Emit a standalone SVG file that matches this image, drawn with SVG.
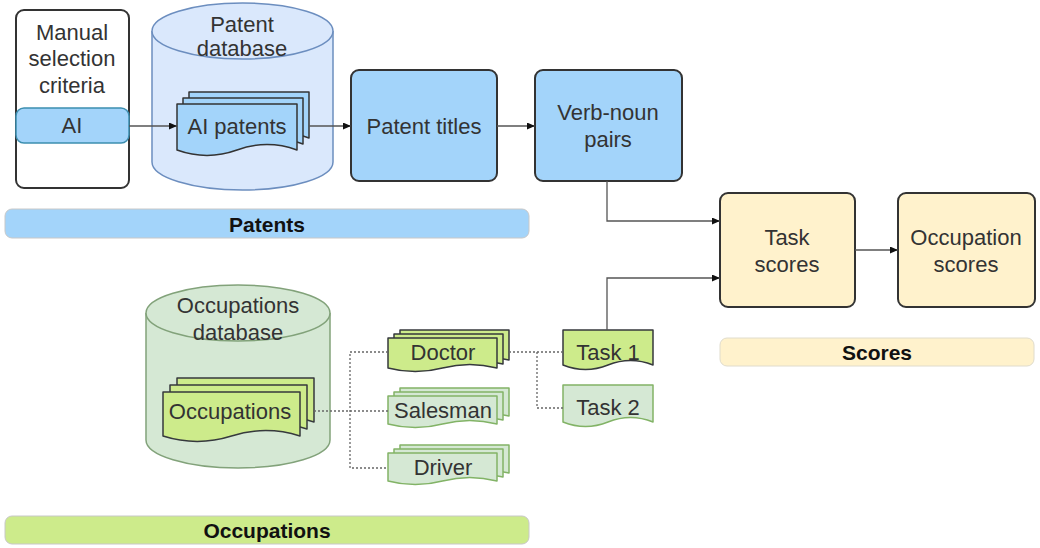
<svg xmlns="http://www.w3.org/2000/svg" width="1040" height="548" viewBox="0 0 1040 548">
<defs>
<marker id="arr" markerWidth="9" markerHeight="8" refX="8" refY="3.5" orient="auto" markerUnits="userSpaceOnUse">
<path d="M0,0 L8,3.5 L0,7 z" fill="#111"/>
</marker>
<style>
text{font-family:"Liberation Sans",Arial,Helvetica,sans-serif;font-size:22px;fill:#333;text-anchor:middle}
.b{font-weight:bold;fill:#111;font-size:21px}
.box{stroke:#333;stroke-width:2}
.blue{fill:#a3d4fa}
.yel{fill:#fff2cc}
.cylB{fill:#dae8fc;stroke:#6c8ebf;stroke-width:1.5}
.cylG{fill:#d5e8d4;stroke:#82a27a;stroke-width:1.5}
.docG{fill:#cdeb8b;stroke:#36393d;stroke-width:1.5;stroke-linejoin:round}
.docL{fill:#d5e8d4;stroke:#82b366;stroke-width:1.5;stroke-linejoin:round}
.docB{fill:#a3d4fa;stroke:#333;stroke-width:1.5;stroke-linejoin:round}
.con{fill:none;stroke:#555;stroke-width:1.3}
.dot{fill:none;stroke:#666;stroke-width:1.3;stroke-dasharray:2 2}
</style>
</defs>

<g id="patents-bar">
<rect x="5" y="209" width="524" height="29" rx="7" fill="#a3d4fa" stroke="#c8c8c8" stroke-width="1"/>
<text class="b" x="267" y="232">Patents</text>
</g>
<g id="occupations-bar">
<rect x="5" y="516" width="524" height="28" rx="7" fill="#cdeb8b" stroke="#c8c8c8" stroke-width="1"/>
<text class="b" x="267" y="538">Occupations</text>
</g>
<g id="scores-bar">
<rect x="720" y="338" width="314" height="28" rx="7" fill="#fff2cc" stroke="#e0dccc" stroke-width="1"/>
<text class="b" x="877" y="360">Scores</text>
</g>

<g id="manual-criteria">
<rect class="box" x="16" y="10" width="113" height="178" rx="8" fill="#fff"/>
<text x="72" y="40">Manual</text>
<text x="72" y="66">selection</text>
<text x="72" y="93">criteria</text>
<rect x="16" y="108" width="113" height="35" rx="8" fill="#a3d4fa" stroke="#3d8fb0" stroke-width="1.5"/>
<text x="72" y="133">AI</text>
</g>

<g id="patent-database">
<path class="cylB" d="M152 31 A90.5 28 0 0 1 333 31 V162 A90.5 28 0 0 1 152 162 Z"/>
<path class="cylB" fill="none" d="M152 31 A90.5 28 0 0 0 333 31"/>
<text x="242" y="32">Patent</text>
<text x="242" y="56">database</text>
</g>

<g id="ai-patents">
<path class="docB" d="M189 92 H309 V138 Q279 127.2 249 138 Q219 148.8 189 138 Z"/>
<path class="docB" d="M183 98 H303 V144 Q273 133.2 243 144 Q213 154.8 183 144 Z"/>
<path class="docB" d="M177 104 H297 V150 Q267 139.2 237 150 Q207 160.8 177 150 Z"/>
<text x="237" y="134">AI patents</text>
</g>

<g id="patent-titles">
<rect class="box blue" x="351" y="70" width="146" height="111" rx="8"/>
<text x="424" y="134">Patent titles</text>
</g>

<g id="verb-noun-pairs">
<rect class="box blue" x="535" y="70" width="147" height="111" rx="8"/>
<text x="608" y="120">Verb-noun</text>
<text x="608" y="147">pairs</text>
</g>

<g id="task-scores">
<rect class="box yel" x="720" y="193" width="135" height="114" rx="8"/>
<text x="787" y="245">Task</text>
<text x="787" y="272">scores</text>
</g>

<g id="occupation-scores">
<rect class="box yel" x="898" y="193" width="137" height="114" rx="8"/>
<text x="966" y="245">Occupation</text>
<text x="966" y="272">scores</text>
</g>

<g id="occupations-database">
<path class="cylG" d="M146 313 A92 28 0 0 1 330 313 V440 A92 28 0 0 1 146 440 Z"/>
<path class="cylG" fill="none" d="M146 313 A92 28 0 0 0 330 313"/>
<text x="238" y="313">Occupations</text>
<text x="238" y="340">database</text>
</g>

<g id="occupations">
<path class="docG" d="M177 378 H314 V422 Q279.75 411.2 245.5 422 Q211.25 432.8 177 422 Z"/>
<path class="docG" d="M170 385 H307 V429 Q272.75 418.2 238.5 429 Q204.25 439.8 170 429 Z"/>
<path class="docG" d="M163 392 H300 V436 Q265.75 425.2 231.5 436 Q197.25 446.8 163 436 Z"/>
<text x="230" y="419">Occupations</text>
</g>

<g id="doctor">
<path class="docG" d="M400 330 H509 V360 Q481.75 352.8 454.5 360 Q427.25 367.2 400 360 Z"/>
<path class="docG" d="M394 334 H503 V364 Q475.75 356.8 448.5 364 Q421.25 371.2 394 364 Z"/>
<path class="docG" d="M388 338 H497 V368 Q469.75 360.8 442.5 368 Q415.25 375.2 388 368 Z"/>
<text x="443" y="360">Doctor</text>
</g>

<g id="salesman">
<path class="docL" d="M400 388 H509 V416 Q481.75 408.8 454.5 416 Q427.25 423.2 400 416 Z"/>
<path class="docL" d="M394 392 H503 V420 Q475.75 412.8 448.5 420 Q421.25 427.2 394 420 Z"/>
<path class="docL" d="M388 396 H497 V424 Q469.75 416.8 442.5 424 Q415.25 431.2 388 424 Z"/>
<text x="443" y="418">Salesman</text>
</g>

<g id="driver">
<path class="docL" d="M400 445 H509 V473 Q481.75 465.8 454.5 473 Q427.25 480.2 400 473 Z"/>
<path class="docL" d="M394 449 H503 V477 Q475.75 469.8 448.5 477 Q421.25 484.2 394 477 Z"/>
<path class="docL" d="M388 453 H497 V481 Q469.75 473.8 442.5 481 Q415.25 488.2 388 481 Z"/>
<text x="443" y="475">Driver</text>
</g>

<g id="task-1">
<path class="docG" d="M563 330 H653 V365 Q630.5 356 608 365 Q585.5 374 563 365 Z"/>
<text x="608" y="360">Task 1</text>
</g>

<g id="task-2">
<path class="docL" d="M563 385 H653 V422 Q630.5 413 608 422 Q585.5 431 563 422 Z"/>
<text x="608" y="415">Task 2</text>
</g>

<g id="connectors">
<path class="con" d="M129 126 H177" marker-end="url(#arr)"/>
<path class="con" d="M309 126 H351" marker-end="url(#arr)"/>
<path class="con" d="M497 126 H535" marker-end="url(#arr)"/>
<path class="con" d="M607 181 V221 H720" marker-end="url(#arr)"/>
<path class="con" d="M607 330 V278 H720" marker-end="url(#arr)"/>
<path class="con" d="M855 250 H898" marker-end="url(#arr)"/>
<path class="dot" d="M314 411 H388"/>
<path class="dot" d="M388 352 H350 V468 H388"/>
<path class="dot" d="M509 352 H563"/>
<path class="dot" d="M537 352 V408 H563"/>
</g>
</svg>
